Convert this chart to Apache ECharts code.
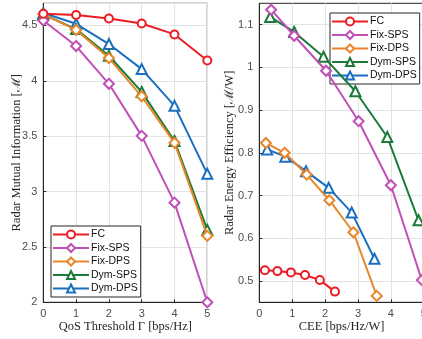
<!DOCTYPE html>
<html><head><meta charset="utf-8">
<script src="https://cdn.jsdelivr.net/npm/echarts@6/dist/echarts.min.js"></script>
<style>html,body{margin:0;padding:0;background:#fff}#c{width:422px;height:339px}</style>
</head><body><div id="c"></div>
<script>
// Left chart: QoS threshold vs radar mutual information
const qos = [0, 1, 2, 3, 4, 5];
const leftFC     = [4.606, 4.594, 4.563, 4.518, 4.419, 4.184];
const leftFixSPS = [4.545, 4.314, 3.973, 3.503, 2.900, 2.000];
const leftFixDPS = [4.600, 4.460, 4.205, 3.860, 3.440, 2.600];
const leftDymSPS = [4.600, 4.467, 4.226, 3.900, 3.457, 2.654];
const leftDymDPS = [4.612, 4.515, 4.332, 4.106, 3.774, 3.160];
const leftYTicks = [2, 2.5, 3, 3.5, 4, 4.5];

// Right chart: CEE vs radar energy efficiency  ([x, y] pairs)
const rightFCx     = [0.17, 0.55, 0.96, 1.39, 1.84, 2.30];
const rightFCy     = [0.525, 0.523, 0.520, 0.514, 0.502, 0.475];
const rightFixSPSx = [0.36, 1.06, 2.03, 3.02, 4.00, 4.94];
const rightFixSPSy = [1.135, 1.074, 0.992, 0.874, 0.724, 0.502];
const rightFixDPSx = [0.20, 0.77, 1.44, 2.13, 2.86, 3.57];
const rightFixDPSy = [0.823, 0.800, 0.749, 0.689, 0.614, 0.465];
const rightDymSPSx = [0.33, 1.06, 1.95, 2.92, 3.89, 4.84];
const rightDymSPSy = [1.118, 1.083, 1.025, 0.944, 0.837, 0.642];
const rightDymDPSx = [0.24, 0.79, 1.42, 2.11, 2.81, 3.50];
const rightDymDPSy = [0.808, 0.791, 0.757, 0.718, 0.660, 0.552];
const rightYTicks = [0.5, 0.6, 0.7, 0.8, 0.9, 1, 1.1];

const names = ['FC', 'Fix-SPS', 'Fix-DPS', 'Dym-SPS', 'Dym-DPS'];
const colors = ['#ec1c24', '#c04fb6', '#e8862a', '#1b7a3a', '#1a6fc0'];
const symbols = ['emptyCircle', 'emptyDiamond', 'emptyDiamond', 'emptyTriangle', 'emptyTriangle'];

const leftData = [leftFC, leftFixSPS, leftFixDPS, leftDymSPS, leftDymDPS];
const rightX = [rightFCx, rightFixSPSx, rightFixDPSx, rightDymSPSx, rightDymDPSx];
const rightY = [rightFCy, rightFixSPSy, rightFixDPSy, rightDymSPSy, rightDymDPSy];

const tickFont = {color: '#4d4d4d', fontSize: 11, fontFamily: 'Liberation Sans, Arial, sans-serif'};
const nameFont = {color: '#262626', fontSize: 12.5, fontFamily: 'Liberation Serif, DejaVu Serif, serif'};
function axisCommon() {
  return {
    axisLine: {show: true, onZero: false, lineStyle: {color: '#262626', width: 1}},
    axisTick: {show: true, inside: true, length: 3, lineStyle: {color: '#262626'}},
    splitLine: {show: true, lineStyle: {color: '#e3e3e3', width: 1}},
    axisLabel: Object.assign({margin: 6}, tickFont),
    nameTextStyle: nameFont,
    nameLocation: 'middle',
    nameMoveOverlap: false
  };
}

const series = [];
for (let i = 0; i < 5; i++) {
  series.push({
    name: names[i], type: 'line', xAxisIndex: 0, yAxisIndex: 0,
    data: qos.map((x, k) => [x, leftData[i][k]]),
    symbol: symbols[i], symbolSize: (symbols[i] === 'emptyCircle') ? 8 : 10,
    lineStyle: {color: colors[i], width: 2},
    itemStyle: {color: colors[i], borderWidth: 1.5},
    z: 10 - i
  });
}
for (let i = 0; i < 5; i++) {
  series.push({
    name: names[i], type: 'line', xAxisIndex: 1, yAxisIndex: 1,
    data: rightX[i].map((x, k) => [x, rightY[i][k]]),
    symbol: symbols[i], symbolSize: (symbols[i] === 'emptyCircle') ? 8 : 10,
    lineStyle: {color: colors[i], width: 2},
    itemStyle: {color: colors[i], borderWidth: 1.5},
    z: 10 - i
  });
}

const legendCommon = {
  orient: 'vertical', data: names, backgroundColor: '#fff',
  borderColor: '#262626', borderWidth: 1, padding: [3, 3, 3, 1],
  itemGap: 2.5, itemWidth: 36, itemHeight: 10,
  textStyle: {color: '#111', fontSize: 10.5, lineHeight: 11, fontFamily: 'Liberation Sans, Arial, sans-serif', padding: [0, 0, 0, -3]},
  selectedMode: false
};

const gridCommon = {show: true, borderColor: '#262626', borderWidth: 1, backgroundColor: 'transparent', containLabel: false, outerBoundsMode: 'none'};

const yL = axisCommon();
const yR = axisCommon();
yR.axisLabel.customValues = rightYTicks;
yR.axisTick.customValues = rightYTicks;
yR.splitLine.show = false;

// hidden helper axis for the right chart's horizontal grid lines (every 0.05, only 0.1 steps visible)
const yRGrid = {
  gridIndex: 1, type: 'value', min: 0.45, max: 1.15, interval: 0.05, position: 'left',
  axisLine: {show: false}, axisTick: {show: false}, axisLabel: {show: false},
  splitLine: {show: true, lineStyle: {color: ['transparent', '#e3e3e3'], width: 1}}, z: 0
};

const chart = echarts.init(document.getElementById('c'), null, {renderer: 'canvas'});
chart.setOption({
  animation: false,
  backgroundColor: '#fff',
  grid: [
    Object.assign({left: 43.3, width: 164, top: 3.3, height: 299}, gridCommon),
    Object.assign({left: 259.3, width: 164.5, top: 3.3, height: 299}, gridCommon)
  ],
  xAxis: [
    Object.assign(axisCommon(), {gridIndex: 0, type: 'value', min: 0, max: 5, interval: 1, name: 'QoS Threshold Γ [bps/Hz]', nameGap: 18}),
    Object.assign(axisCommon(), {gridIndex: 1, type: 'value', min: 0, max: 5, interval: 1, name: 'CEE [bps/Hz/W]', nameGap: 18})
  ],
  yAxis: [
    Object.assign(yL, {gridIndex: 0, type: 'value', min: 2, max: 4.7, interval: 0.5, name: 'Radar Mutual Information [ℳ]', nameGap: 20,
      axisLabel: Object.assign({margin: 6, showMaxLabel: false, formatter: v => (v > 4.6 ? '' : String(+v.toFixed(1)))}, tickFont)}),
    Object.assign(yR, {gridIndex: 1, type: 'value', min: 0.45, max: 1.15, name: 'Radar Energy Efficiency [ℳ/W]', nameGap: 23}),
    yRGrid
  ],
  legend: [
    Object.assign({}, legendCommon, {left: 51, top: 226}),
    Object.assign({}, legendCommon, {left: 330, top: 13})
  ],
  series: series
});
</script></body></html>
